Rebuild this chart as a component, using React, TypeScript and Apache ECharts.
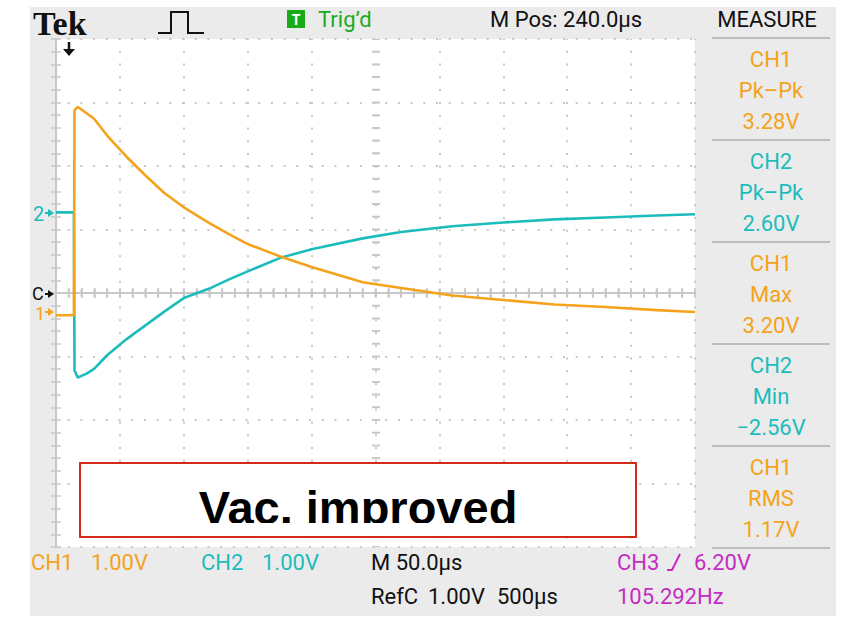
import React, { useEffect, useRef } from "react";
import * as echarts from "echarts";

// ---- data (time in µs, volts per channel) ----
const timeUs = [0, 14, 14.5, 17, 24, 30, 40, 55, 70, 85, 100, 120, 135, 150, 175, 200, 240, 270, 310, 350, 390, 430, 470, 500];
const ch1Volts = [0, 0, 3.23, 3.28, 3.18, 3.09, 2.83, 2.5, 2.2, 1.92, 1.7, 1.45, 1.28, 1.12, 0.93, 0.76, 0.52, 0.43, 0.31, 0.24, 0.17, 0.13, 0.08, 0.05];
const ch2Volts = [0, 0, -2.49, -2.6, -2.54, -2.46, -2.25, -2.0, -1.78, -1.56, -1.35, -1.2, -1.06, -0.93, -0.72, -0.58, -0.41, -0.31, -0.22, -0.16, -0.11, -0.08, -0.05, -0.03];

const ch1VoltsPerDiv = 1.0;
const ch2VoltsPerDiv = 1.0;
const ch1OffsetDiv = -0.35;
const ch2OffsetDiv = 1.27;
const timePerDivUs = 50;
const timeDivisions = 10;
const voltDivisions = 8;

const measureChannels = ["CH1", "CH2", "CH1", "CH2", "CH1"];
const measureNames = ["Pk\u2013Pk", "Pk\u2013Pk", "Max", "Min", "RMS"];
const measureValues = ["3.28V", "2.60V", "3.20V", "\u22122.56V", "1.17V"];

const ORANGE = "#f5a21c";
const CYAN = "#1dbcbc";
const MAGENTA = "#c42cc4";
const GREEN = "#1aab1a";
const GRID_GRAY = "#c8c8c8";
const FONT = 'Roboto, "DejaVu Sans", sans-serif';

function txt(text: string, x: number, y: number, fill: string, size = 22, align = "left", weight = "normal", family = FONT) {
  return {
    type: "text",
    x,
    y,
    z: 100,
    style: { text, fill, font: `${weight} ${size}px ${family}`, textAlign: align, textVerticalAlign: "middle" },
  };
}

function chanColor(ch: string) {
  return ch === "CH1" ? ORANGE : CYAN;
}

function markerArrow(x: number, y: number, color: string) {
  return [
    { type: "line", z: 100, shape: { x1: x - 7, y1: y, x2: x - 3, y2: y }, style: { stroke: color, lineWidth: 2 } },
    { type: "polygon", z: 100, shape: { points: [[x - 4, y - 4], [x + 2, y], [x - 4, y + 4]] }, style: { fill: color } },
  ];
}

export default function App() {
  const ref = useRef<HTMLDivElement>(null);

  useEffect(() => {
    if (!ref.current) return;
    const chart = echarts.init(ref.current, undefined, { renderer: "svg" });

    const ch1Data = timeUs.map((t, i) => [t, ch1Volts[i] / ch1VoltsPerDiv + ch1OffsetDiv]);
    const ch2Data = timeUs.map((t, i) => [t, ch2Volts[i] / ch2VoltsPerDiv + ch2OffsetDiv]);

    const xMax = timePerDivUs * timeDivisions;
    const yHalf = voltDivisions / 2;

    const axisLine = { show: true, lineStyle: { color: GRID_GRAY, width: 2 } };
    const axisTick = { show: true, inside: true, length: 5, lineStyle: { color: GRID_GRAY, width: 1.5 } };
    const minorTick = { show: true, splitNumber: 5, length: 5, lineStyle: { color: GRID_GRAY, width: 1.5 } };

    const gL = 56, gT = 39, gW = 639, gH = 508;

    const graphic: any[] = [];
    // instrument background
    graphic.push({ type: "rect", z: -20, shape: { x: 30, y: 7, width: 806, height: 609 }, style: { fill: "#ebebeb" } });
    graphic.push({ type: "rect", z: -19, shape: { x: gL, y: gT, width: gW, height: gH }, style: { fill: "#ffffff" } });

    // header
    graphic.push(txt("Tek", 33, 23, "#111", 34, "left", "bold", '"Liberation Serif", "DejaVu Serif", serif'));
    graphic.push({
      type: "polyline",
      z: 100,
      shape: { points: [[158, 33], [171, 33], [171, 12], [188, 12], [188, 33], [204, 33]] },
      style: { stroke: "#111", lineWidth: 2, fill: null },
    });
    graphic.push({ type: "rect", z: 100, shape: { x: 287, y: 10, width: 18, height: 18 }, style: { fill: GREEN } });
    graphic.push(txt("T", 296, 19.5, "#fff", 14, "center", "bold"));
    graphic.push(txt("Trig\u2019d", 318, 19, GREEN));
    graphic.push(txt("M Pos: 240.0\u00b5s", 490, 19, "#111"));
    graphic.push(txt("MEASURE", 767, 19, "#111", 22, "center"));

    // measure panel
    const sepY0 = 38, sepStep = 102;
    for (let i = 0; i <= measureChannels.length; i++) {
      const y = sepY0 + sepStep * i;
      graphic.push({ type: "line", z: 100, shape: { x1: 712, y1: y, x2: 830, y2: y }, style: { stroke: "#bdbdbd", lineWidth: 2 } });
    }
    measureChannels.forEach((ch, i) => {
      const y = sepY0 + sepStep * i;
      const c = chanColor(ch);
      graphic.push(txt(ch, 771, y + 21, c, 22, "center"));
      graphic.push(txt(measureNames[i], 771, y + 52, c, 22, "center"));
      graphic.push(txt(measureValues[i], 771, y + 83, c, 22, "center"));
    });

    // left channel markers
    graphic.push(txt("2", 33, 214, CYAN, 20, "left"));
    graphic.push(...markerArrow(52, 213, CYAN));
    graphic.push(txt("C", 32, 293, "#111", 18, "left"));
    graphic.push(...markerArrow(52, 294, "#111"));
    graphic.push(txt("1", 35, 313, ORANGE, 18, "left"));
    graphic.push(...markerArrow(52, 312, ORANGE));

    // trigger position arrow
    graphic.push({ type: "line", z: 100, shape: { x1: 69, y1: 42, x2: 69, y2: 50 }, style: { stroke: "#111", lineWidth: 2.5 } });
    graphic.push({ type: "polygon", z: 100, shape: { points: [[63, 49], [75, 49], [69, 56]] }, style: { fill: "#111" } });

    // bottom status lines
    graphic.push(txt("CH1", 31, 562, ORANGE));
    graphic.push(txt("1.00V", 91, 562, ORANGE));
    graphic.push(txt("CH2", 201, 562, CYAN));
    graphic.push(txt("1.00V", 262, 562, CYAN));
    graphic.push(txt("M 50.0\u00b5s", 371, 562, "#111"));
    graphic.push(txt("CH3", 617, 562, MAGENTA));
    graphic.push({
      type: "polyline",
      z: 100,
      shape: { points: [[667, 570], [672, 570], [680, 554]] },
      style: { stroke: MAGENTA, lineWidth: 2, fill: null },
    });
    graphic.push(txt("6.20V", 694, 562, MAGENTA));
    graphic.push(txt("RefC", 371, 596, "#111"));
    graphic.push(txt("1.00V", 428, 596, "#111"));
    graphic.push(txt("500\u00b5s", 497, 596, "#111"));
    graphic.push(txt("105.292Hz", 617, 596, MAGENTA));

    // annotation box
    graphic.push({ type: "rect", z: 110, shape: { x: 80, y: 463, width: 556, height: 74 }, style: { fill: "#fff" } });
    graphic.push({
      type: "text",
      x: 358,
      y: 507,
      z: 111,
      style: { text: "Vac. improved", fill: "#000", font: 'bold 47px "Liberation Sans", Arial, sans-serif', textAlign: "center", textVerticalAlign: "middle" },
    });
    graphic.push({ type: "rect", z: 112, shape: { x: 81, y: 523, width: 554, height: 13 }, style: { fill: "#fff" } });
    graphic.push({ type: "rect", z: 113, shape: { x: 80, y: 463, width: 556, height: 74 }, style: { fill: null, stroke: "#d12a1a", lineWidth: 2 } });

    chart.setOption({
      animation: false,
      grid: { left: gL, top: gT, width: gW, height: gH, containLabel: false },
      xAxis: [
        {
          type: "value", min: 0, max: xMax, interval: timePerDivUs, position: "bottom",
          axisLine, axisTick, minorTick, axisLabel: { show: false },
          splitLine: { show: true, lineStyle: { color: GRID_GRAY, width: 2, type: [2, 10.78], dashOffset: 1 } },
        },
        {
          type: "value", min: 0, max: xMax, interval: timePerDivUs, position: "top",
          axisLine, axisTick, minorTick, axisLabel: { show: false }, splitLine: { show: false },
        },
      ],
      yAxis: [
        {
          type: "value", min: -yHalf, max: yHalf, interval: 1, position: "left",
          axisLine, axisTick, minorTick, axisLabel: { show: false },
          splitLine: { show: true, lineStyle: { color: GRID_GRAY, width: 2, type: [2, 10.7], dashOffset: 1 } },
        },
        {
          type: "value", min: -yHalf, max: yHalf, interval: 1, position: "right",
          axisLine, axisTick, minorTick, axisLabel: { show: false }, splitLine: { show: false },
        },
      ],
      series: [
        {
          name: "CH2", type: "line", data: ch2Data, showSymbol: false, z: 3,
          lineStyle: { color: CYAN, width: 2.6 }, itemStyle: { color: CYAN },
          markLine: {
            silent: true, symbol: ["none", "none"], label: { show: false }, z: 1,
            data: [
              { yAxis: 0, lineStyle: { color: GRID_GRAY, width: 8, type: [2, 10.78], dashOffset: 1 } },
              { xAxis: xMax / 2, lineStyle: { color: GRID_GRAY, width: 8, type: [2, 10.7], dashOffset: 1 } },
            ],
          },
        },
        {
          name: "CH1", type: "line", data: ch1Data, showSymbol: false, z: 4,
          lineStyle: { color: ORANGE, width: 2.6 }, itemStyle: { color: ORANGE },
        },
      ],
      graphic,
    });

    return () => chart.dispose();
  }, []);

  return <div ref={ref} style={{ position: "fixed", left: 0, top: 0, width: 841, height: 617, background: "#fff" }} />;
}
